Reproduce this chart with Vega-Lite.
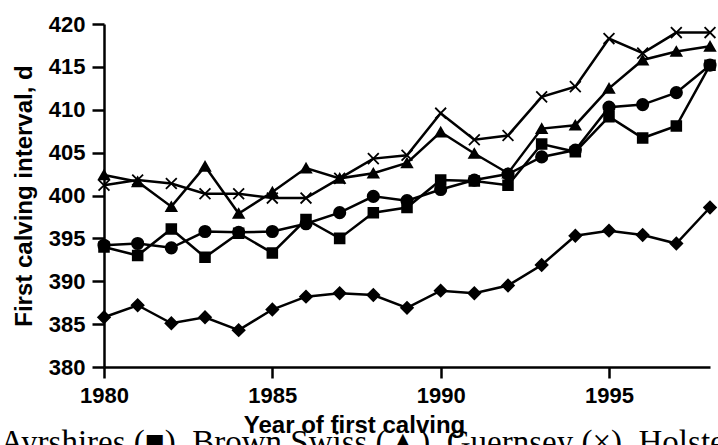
{
  "$schema": "https://vega.github.io/schema/vega-lite/v6.json",
  "autosize": {"type": "none"},
  "width": 606,
  "height": 343,
  "padding": {"left": 104, "top": 24, "right": 8, "bottom": 78},
  "background": "white",
  "config": {"view": {"stroke": null}, "font": "Liberation Sans"},
  "title": {
    "text": "Ayrshires (■), Brown Swiss (▲), Guernsey (×), Holsteins (●), and Jerseys (◆)",
    "orient": "bottom",
    "anchor": "start",
    "frame": "bounds",
    "font": "Liberation Serif",
    "fontSize": 33,
    "fontWeight": "normal",
    "color": "black",
    "baseline": "top",
    "offset": -10,
    "dx": -12
  },
  "data": {
    "values": [
      {"breed": "Ayrshire", "year": 1980, "fci": 394.0},
      {"breed": "Ayrshire", "year": 1981, "fci": 393.0},
      {"breed": "Ayrshire", "year": 1982, "fci": 396.1},
      {"breed": "Ayrshire", "year": 1983, "fci": 392.8},
      {"breed": "Ayrshire", "year": 1984, "fci": 395.6},
      {"breed": "Ayrshire", "year": 1985, "fci": 393.3},
      {"breed": "Ayrshire", "year": 1986, "fci": 397.2},
      {"breed": "Ayrshire", "year": 1987, "fci": 395.0},
      {"breed": "Ayrshire", "year": 1988, "fci": 398.0},
      {"breed": "Ayrshire", "year": 1989, "fci": 398.6},
      {"breed": "Ayrshire", "year": 1990, "fci": 401.8},
      {"breed": "Ayrshire", "year": 1991, "fci": 401.7},
      {"breed": "Ayrshire", "year": 1992, "fci": 401.2},
      {"breed": "Ayrshire", "year": 1993, "fci": 406.0},
      {"breed": "Ayrshire", "year": 1994, "fci": 405.1},
      {"breed": "Ayrshire", "year": 1995, "fci": 409.2},
      {"breed": "Ayrshire", "year": 1996, "fci": 406.7},
      {"breed": "Ayrshire", "year": 1997, "fci": 408.1},
      {"breed": "Ayrshire", "year": 1998, "fci": 415.2},
      {"breed": "Brown Swiss", "year": 1980, "fci": 402.4},
      {"breed": "Brown Swiss", "year": 1981, "fci": 401.6},
      {"breed": "Brown Swiss", "year": 1982, "fci": 398.7},
      {"breed": "Brown Swiss", "year": 1983, "fci": 403.4},
      {"breed": "Brown Swiss", "year": 1984, "fci": 397.9},
      {"breed": "Brown Swiss", "year": 1985, "fci": 400.4},
      {"breed": "Brown Swiss", "year": 1986, "fci": 403.2},
      {"breed": "Brown Swiss", "year": 1987, "fci": 402.0},
      {"breed": "Brown Swiss", "year": 1988, "fci": 402.6},
      {"breed": "Brown Swiss", "year": 1989, "fci": 403.8},
      {"breed": "Brown Swiss", "year": 1990, "fci": 407.4},
      {"breed": "Brown Swiss", "year": 1991, "fci": 404.9},
      {"breed": "Brown Swiss", "year": 1992, "fci": 402.6},
      {"breed": "Brown Swiss", "year": 1993, "fci": 407.8},
      {"breed": "Brown Swiss", "year": 1994, "fci": 408.2},
      {"breed": "Brown Swiss", "year": 1995, "fci": 412.5},
      {"breed": "Brown Swiss", "year": 1996, "fci": 415.8},
      {"breed": "Brown Swiss", "year": 1997, "fci": 416.8},
      {"breed": "Brown Swiss", "year": 1998, "fci": 417.4},
      {"breed": "Guernsey", "year": 1980, "fci": 401.2},
      {"breed": "Guernsey", "year": 1981, "fci": 401.8},
      {"breed": "Guernsey", "year": 1982, "fci": 401.4},
      {"breed": "Guernsey", "year": 1983, "fci": 400.2},
      {"breed": "Guernsey", "year": 1984, "fci": 400.2},
      {"breed": "Guernsey", "year": 1985, "fci": 399.7},
      {"breed": "Guernsey", "year": 1986, "fci": 399.7},
      {"breed": "Guernsey", "year": 1987, "fci": 402.0},
      {"breed": "Guernsey", "year": 1988, "fci": 404.3},
      {"breed": "Guernsey", "year": 1989, "fci": 404.7},
      {"breed": "Guernsey", "year": 1990, "fci": 409.6},
      {"breed": "Guernsey", "year": 1991, "fci": 406.5},
      {"breed": "Guernsey", "year": 1992, "fci": 407.0},
      {"breed": "Guernsey", "year": 1993, "fci": 411.5},
      {"breed": "Guernsey", "year": 1994, "fci": 412.7},
      {"breed": "Guernsey", "year": 1995, "fci": 418.3},
      {"breed": "Guernsey", "year": 1996, "fci": 416.6},
      {"breed": "Guernsey", "year": 1997, "fci": 419.0},
      {"breed": "Guernsey", "year": 1998, "fci": 419.0},
      {"breed": "Holstein", "year": 1980, "fci": 394.2},
      {"breed": "Holstein", "year": 1981, "fci": 394.4},
      {"breed": "Holstein", "year": 1982, "fci": 393.9},
      {"breed": "Holstein", "year": 1983, "fci": 395.8},
      {"breed": "Holstein", "year": 1984, "fci": 395.7},
      {"breed": "Holstein", "year": 1985, "fci": 395.8},
      {"breed": "Holstein", "year": 1986, "fci": 396.7},
      {"breed": "Holstein", "year": 1987, "fci": 398.0},
      {"breed": "Holstein", "year": 1988, "fci": 399.9},
      {"breed": "Holstein", "year": 1989, "fci": 399.4},
      {"breed": "Holstein", "year": 1990, "fci": 400.7},
      {"breed": "Holstein", "year": 1991, "fci": 401.8},
      {"breed": "Holstein", "year": 1992, "fci": 402.5},
      {"breed": "Holstein", "year": 1993, "fci": 404.5},
      {"breed": "Holstein", "year": 1994, "fci": 405.3},
      {"breed": "Holstein", "year": 1995, "fci": 410.3},
      {"breed": "Holstein", "year": 1996, "fci": 410.6},
      {"breed": "Holstein", "year": 1997, "fci": 412.0},
      {"breed": "Holstein", "year": 1998, "fci": 415.2},
      {"breed": "Jersey", "year": 1980, "fci": 385.8},
      {"breed": "Jersey", "year": 1981, "fci": 387.2},
      {"breed": "Jersey", "year": 1982, "fci": 385.1},
      {"breed": "Jersey", "year": 1983, "fci": 385.8},
      {"breed": "Jersey", "year": 1984, "fci": 384.3},
      {"breed": "Jersey", "year": 1985, "fci": 386.7},
      {"breed": "Jersey", "year": 1986, "fci": 388.2},
      {"breed": "Jersey", "year": 1987, "fci": 388.6},
      {"breed": "Jersey", "year": 1988, "fci": 388.4},
      {"breed": "Jersey", "year": 1989, "fci": 386.9},
      {"breed": "Jersey", "year": 1990, "fci": 388.9},
      {"breed": "Jersey", "year": 1991, "fci": 388.6},
      {"breed": "Jersey", "year": 1992, "fci": 389.5},
      {"breed": "Jersey", "year": 1993, "fci": 391.9},
      {"breed": "Jersey", "year": 1994, "fci": 395.3},
      {"breed": "Jersey", "year": 1995, "fci": 395.9},
      {"breed": "Jersey", "year": 1996, "fci": 395.4},
      {"breed": "Jersey", "year": 1997, "fci": 394.4},
      {"breed": "Jersey", "year": 1998, "fci": 398.6}
    ]
  },
  "encoding": {
    "x": {
      "field": "year",
      "type": "quantitative",
      "scale": {"domain": [1980, 1998], "nice": false, "zero": false},
      "axis": {
        "values": [1980, 1985, 1990, 1995],
        "format": "d",
        "grid": false,
        "domainColor": "black",
        "domainWidth": 2.5,
        "tickColor": "black",
        "tickWidth": 2.5,
        "tickSize": 11,
        "labelPadding": 7,
        "labelFont": "Liberation Sans",
        "labelFontWeight": "bold",
        "labelFontSize": 22,
        "labelColor": "black",
        "labelFlush": false,
        "title": "Year of first calving",
        "titleFont": "Liberation Sans",
        "titleFontWeight": "bold",
        "titleFontSize": 24,
        "titleColor": "black",
        "titleX": 250,
        "titleY": 65,
        "titleAlign": "center",
        "titleBaseline": "alphabetic"
      }
    },
    "y": {
      "field": "fci",
      "type": "quantitative",
      "scale": {"domain": [380, 420], "nice": false, "zero": false},
      "axis": {
        "values": [380, 385, 390, 395, 400, 405, 410, 415, 420],
        "grid": false,
        "domainColor": "black",
        "domainWidth": 2.5,
        "tickColor": "black",
        "tickWidth": 2.5,
        "tickSize": 12,
        "labelPadding": 7,
        "labelFont": "Liberation Sans",
        "labelFontWeight": "bold",
        "labelFontSize": 22,
        "labelColor": "black",
        "labelFlush": false,
        "title": "First calving interval, d",
        "titleFont": "Liberation Sans",
        "titleFontWeight": "bold",
        "titleFontSize": 24,
        "titleColor": "black",
        "titlePadding": 12
      }
    }
  },
  "layer": [
    {
      "mark": {"type": "line", "color": "black", "strokeWidth": 2.5},
      "encoding": {"detail": {"field": "breed", "type": "nominal"}}
    },
    {
      "mark": {"type": "point", "filled": true, "color": "black", "stroke": "black", "strokeWidth": 1.8, "opacity": 1},
      "encoding": {
        "shape": {
          "field": "breed",
          "type": "nominal",
          "scale": {
            "domain": ["Ayrshire", "Brown Swiss", "Guernsey", "Holstein", "Jersey"],
            "range": ["square", "triangle-up", "M-1,-1L1,1M-1,1L1,-1", "circle", "diamond"]
          },
          "legend": null
        },
        "size": {
          "field": "breed",
          "type": "nominal",
          "scale": {
            "domain": ["Ayrshire", "Brown Swiss", "Guernsey", "Holstein", "Jersey"],
            "range": [95, 140, 190, 150, 110]
          },
          "legend": null
        }
      }
    }
  ]
}
